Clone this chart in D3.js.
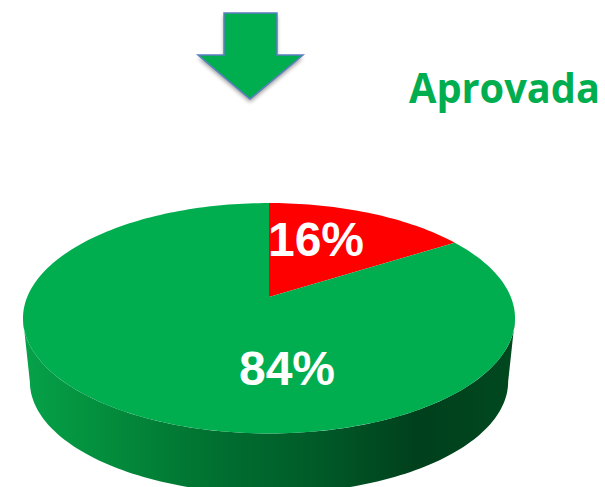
<!DOCTYPE html>
<html><head><meta charset="utf-8">
<script src="https://cdn.jsdelivr.net/npm/d3@7/dist/d3.min.js"></script>
<style>html,body{margin:0;padding:0;background:#fff;overflow:hidden}svg{display:block}</style>
</head><body><svg id="c" width="605" height="487"></svg>
<script>
const categories = ["Reprovada", "Aprovada"];
const values = [16, 84];
const labels = ["16%", "84%"];
const colors = ["#FF0000", "#00AE50"];
const title = "Aprovada";

const svg = d3.select("#c");
const defs = svg.append("defs");
const grad = defs.append("linearGradient").attr("id","side").attr("gradientUnits","userSpaceOnUse")
  .attr("x1",23).attr("x2",515).attr("y1",0).attr("y2",0);
[[0,"#06a24a"],[0.12,"#04933f"],[0.4,"#006f30"],[0.6,"#005a28"],[0.8,"#00401c"],[1,"#00481f"]]
  .forEach(s=>grad.append("stop").attr("offset",s[0]).attr("stop-color",s[1]));
const blur = defs.append("filter").attr("id","sh").attr("x","-20%").attr("y","-20%").attr("width","140%").attr("height","140%");
blur.append("feGaussianBlur").attr("stdDeviation",2.2);

// perspective disc
const cx = 269, cy = 297, k = 0.1844, a = 111.3, b = 241.8;
const proj = (t, r=1, scale=1, dy=0) => {
  const u = r*Math.sin(t), v = r*Math.cos(t), w = 1 + k*v;
  return [cx + scale*b*u/w, cy + dy - scale*a*v/w];
};
const pie = d3.pie().sort(null).value(d=>d);
const arcs = pie(values);
const line = d3.line();

// side wall
const sideDy = 64, sideScale = 0.972;
const t0 = Math.PI/2 + Math.asin(k), t1 = 2*Math.PI - t0;
const steps = d3.range(0,121).map(i=>i/120);
const rimTop = steps.map(s=>proj(t0+(t1-t0)*s));
const rimBot = steps.map(s=>proj(t0+(t1-t0)*s,1,sideScale,sideDy)).reverse();
svg.append("path").attr("d",line(rimTop.concat(rimBot))+"Z").attr("fill","url(#side)");

// top slices
svg.selectAll("path.slice").data(arcs).enter().append("path").attr("class","slice")
  .attr("fill",(d,i)=>colors[i])
  .attr("d",d=>{
    const n = Math.ceil((d.endAngle-d.startAngle)*40);
    const pts = d3.range(n+1).map(i=>proj(d.startAngle+(d.endAngle-d.startAngle)*i/n));
    return line([[cx,cy]].concat(pts))+"Z";
  });

// value labels
svg.selectAll("text.val").data(labels).enter().append("text").attr("class","val")
  .attr("x",(d,i)=>[316,287][i]).attr("y",(d,i)=>[256,385][i])
  .attr("text-anchor","middle").attr("font-family","'Liberation Sans',Arial,sans-serif")
  .attr("font-weight",700).attr("font-size",48).attr("fill","#fff").text(d=>d);

// arrow
const arrow = [[224,13],[277,13],[277,55],[303,55],[250,99],[198,55],[224,55]];
svg.append("path").attr("d",line(arrow)+"Z").attr("transform","translate(0,3)").attr("fill","#000").attr("opacity",.4).attr("filter","url(#sh)");
svg.append("path").attr("d",line(arrow)+"Z").attr("fill","#00AE50").attr("stroke","#5B7FC0").attr("stroke-width",1.5);

svg.append("text").attr("x",409).attr("y",103).attr("font-family","'Open Sans',sans-serif").attr("font-weight",700)
  .attr("font-size",41).attr("textLength",191).attr("lengthAdjust","spacingAndGlyphs").attr("fill","#00AE50").text(title);
</script></body></html>
